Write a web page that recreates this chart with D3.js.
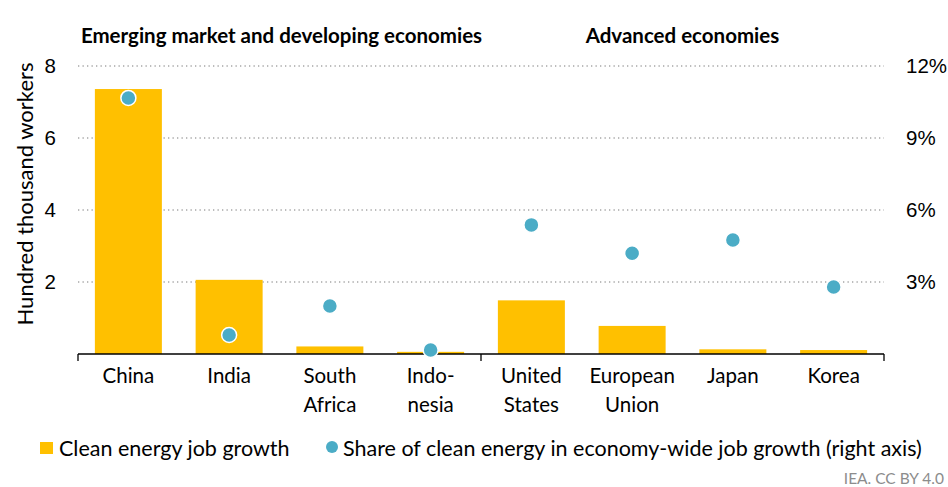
<!DOCTYPE html>
<html>
<head>
<meta charset="utf-8">
<script src="https://cdn.jsdelivr.net/npm/d3@7"></script>
<style>
  html, body { margin: 0; padding: 0; background: #fff; }
  svg { display: block; font-family: Lato, "Open Sans", sans-serif; }
</style>
</head>
<body>
<svg id="chart" width="948" height="487"></svg>
<script>
// Clean energy employment growth by economy
const categories = ["China", "India", "South Africa", "Indo-nesia", "United States", "European Union", "Japan", "Korea"];
const categoryLines = [["China"], ["India"], ["South", "Africa"], ["Indo-", "nesia"], ["United", "States"], ["European", "Union"], ["Japan"], ["Korea"]];
const jobGrowth = [7.36, 2.06, 0.21, 0.06, 1.49, 0.78, 0.13, 0.11];      // hundred thousand workers
const jobShare = [10.67, 0.79, 2.0, 0.17, 5.38, 4.2, 4.75, 2.79];         // % of economy-wide job growth
const leftTicks = [2, 4, 6, 8];
const rightTicks = [3, 6, 9, 12];
const groups = [
  { label: "Emerging market and developing economies", from: 0, to: 3 },
  { label: "Advanced economies", from: 4, to: 7 }
];

const barColor = "#FFC000";
const dotColor = "#4BACC6";

const svg = d3.select("#chart");
const plot = { left: 78, right: 884, top: 66, bottom: 354 };

const x = d3.scaleBand().domain(categories).range([plot.left, plot.right]).paddingInner(0.335).paddingOuter(0.1675);
const yL = d3.scaleLinear().domain([0, 8]).range([plot.bottom, plot.top]);
const yR = d3.scaleLinear().domain([0, 12]).range([plot.bottom, plot.top]);

// Gridlines
svg.append("g").selectAll("line").data(leftTicks).join("line")
  .attr("x1", plot.left).attr("x2", plot.right)
  .attr("y1", d => yL(d)).attr("y2", d => yL(d))
  .attr("stroke", "#a6a6a6").attr("stroke-width", 1.3)
  .attr("stroke-dasharray", "1.3,3.2");

// Left axis
const leftAxis = svg.append("g").attr("transform", `translate(${plot.left},0)`)
  .call(d3.axisLeft(yL).tickValues(leftTicks).tickSize(0).tickPadding(22));
leftAxis.select(".domain").remove();
leftAxis.selectAll("text").attr("font-size", 20.5).attr("fill", "#000");

// Right axis
const rightAxis = svg.append("g").attr("transform", `translate(${plot.right},0)`)
  .call(d3.axisRight(yR).tickValues(rightTicks).tickSize(0).tickPadding(22).tickFormat(d => d + "%"));
rightAxis.select(".domain").remove();
rightAxis.selectAll("text").attr("font-size", 20.5).attr("fill", "#000");

// Bars
svg.append("g").selectAll("rect").data(categories).join("rect")
  .attr("x", d => x(d)).attr("width", x.bandwidth())
  .attr("y", (d, i) => yL(jobGrowth[i]))
  .attr("height", (d, i) => yL(0) - yL(jobGrowth[i]))
  .attr("fill", barColor);

// Baseline with group separators
svg.append("line")
  .attr("x1", plot.left).attr("x2", plot.right)
  .attr("y1", plot.bottom).attr("y2", plot.bottom)
  .attr("stroke", "#000").attr("stroke-width", 1.3);
const sepX = [plot.left, (x(categories[3]) + x.bandwidth() + x(categories[4])) / 2, plot.right];
svg.append("g").selectAll("line").data(sepX).join("line")
  .attr("x1", d => d).attr("x2", d => d)
  .attr("y1", plot.bottom).attr("y2", plot.bottom + 7)
  .attr("stroke", "#000").attr("stroke-width", 1.3);

// Category labels
const cat = svg.append("g").selectAll("text").data(categories).join("text")
  .attr("x", d => x(d) + x.bandwidth() / 2)
  .attr("y", 383)
  .attr("text-anchor", "middle").attr("font-size", 20.5).attr("fill", "#000");
cat.each(function (d, i) {
  d3.select(this).selectAll("tspan").data(categoryLines[i]).join("tspan")
    .attr("x", x(d) + x.bandwidth() / 2)
    .attr("dy", (t, j) => j === 0 ? 0 : 29)
    .text(t => t);
});

// Share dots
svg.append("g").selectAll("circle").data(categories).join("circle")
  .attr("cx", d => x(d) + x.bandwidth() / 2)
  .attr("cy", (d, i) => yR(jobShare[i]))
  .attr("r", 7.5)
  .attr("fill", dotColor).attr("stroke", "#fff").attr("stroke-width", 1.5);

// Group titles
svg.append("g").selectAll("text").data(groups).join("text")
  .attr("x", g => (x(categories[g.from]) + x(categories[g.to]) + x.bandwidth()) / 2 + (g.from === 0 ? 2 : 0))
  .attr("y", 43)
  .attr("text-anchor", "middle").attr("font-size", 20.5).attr("font-weight", "bold").attr("fill", "#000")
  .text(g => g.label);

// Left axis title
svg.append("text")
  .attr("transform", `translate(33,194) rotate(-90)`)
  .attr("text-anchor", "middle").attr("font-size", 22).attr("fill", "#000")
  .text("Hundred thousand workers");

// Legend
const legend = svg.append("g");
legend.append("rect").attr("x", 40).attr("y", 442).attr("width", 13).attr("height", 12).attr("fill", barColor);
legend.append("text").attr("x", 59).attr("y", 456).attr("font-size", 21.5).attr("fill", "#000").text("Clean energy job growth");
legend.append("circle").attr("cx", 332).attr("cy", 447).attr("r", 6).attr("fill", dotColor);
legend.append("text").attr("x", 343).attr("y", 456).attr("font-size", 21.5).attr("fill", "#000").text("Share of clean energy in economy-wide job growth (right axis)");

// Source note
svg.append("text").attr("x", 944).attr("y", 484).attr("text-anchor", "end")
  .attr("font-size", 15.5).attr("fill", "#8c8c8c").text("IEA. CC BY 4.0");
</script>
</body>
</html>
